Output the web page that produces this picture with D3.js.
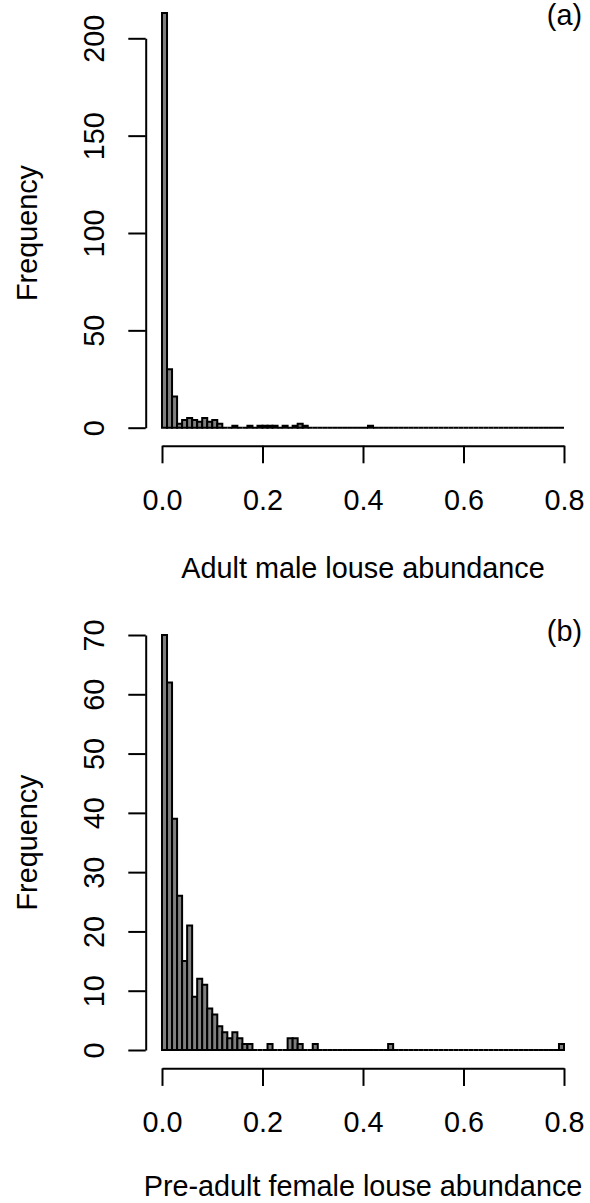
<!DOCTYPE html>
<html>
<head>
<meta charset="utf-8">
<script src="https://cdn.jsdelivr.net/npm/d3@7"></script>
<style>
  body { margin: 0; background: #fff; }
  text { font-family: "Liberation Sans", Arial, sans-serif; fill: #000; }
</style>
</head>
<body>
<div id="chart"></div>
<script>
// bin edges 0.00 .. 0.80, width 0.01
var binWidth = 0.01;
var binStarts = d3.range(0, 80).map(function(i){ return i * binWidth; });

// counts per bin, panel (a) adult males
var countsA = [213,30,16,2,4,5,4,3,5,3,
               4,2,0,0,1,0,0,1,0,1,
               1,1,1,0,1,0,1,2,1,0,
               0,0,0,0,0,0,0,0,0,0,
               0,1,0,0,0,0,0,0,0,0,
               0,0,0,0,0,0,0,0,0,0,
               0,0,0,0,0,0,0,0,0,0,
               0,0,0,0,0,0,0,0,0,0];

// counts per bin, panel (b) pre-adult females
var countsB = [70,62,39,26,15,21,9,12,11,7,
               6,4,3,2,3,2,1,1,0,0,
               0,1,0,0,0,2,2,1,0,0,
               1,0,0,0,0,0,0,0,0,0,
               0,0,0,0,0,1,0,0,0,0,
               0,0,0,0,0,0,0,0,0,0,
               0,0,0,0,0,0,0,0,0,0,
               0,0,0,0,0,0,0,0,0,1];

var xTicks = [0, 0.2, 0.4, 0.6, 0.8];
var yTicksA = [0, 50, 100, 150, 200];
var yTicksB = [0, 10, 20, 30, 40, 50, 60, 70];

var width = 590, height = 1203;
var fontSize = 28.8;

var svg = d3.select("#chart")
            .append("svg")
            .attr("width", width)
            .attr("height", height);

var x = d3.scaleLinear().domain([0, 0.8]).range([162, 564]);

function drawPanel(counts, yScale, yTicks, xLabel, tag, axisY, tagY, titleY){
    var g = svg.append("g");

    // bars, zero bins too (R draws them as flat boxes)
    g.selectAll(null)
        .data(counts)
        .enter()
        .append("path")
        .attr("d", function(d, i){
            var x0 = x(binStarts[i]), x1 = x(binStarts[i] + binWidth);
            var y0 = yScale(0), y1 = yScale(d);
            return "M" + x0 + "," + y0 + "H" + x1 + "V" + y1 + "H" + x0 + "Z";
        })
        .attr("fill", "#7f7f7f")
        .attr("stroke", "#000")
        .attr("stroke-width", 2)
        .attr("stroke-linejoin", "miter");

    // x axis
    var xa = g.append("g")
        .attr("transform", "translate(0," + axisY + ")")
        .call(d3.axisBottom(x).tickValues(xTicks).tickFormat(d3.format(".1f"))
              .tickSize(17.6).tickSizeOuter(0));
    xa.select(".domain").attr("stroke-width", 2);
    xa.selectAll(".tick line").attr("stroke-width", 2);
    xa.selectAll(".tick text")
        .attr("font-size", fontSize)
        .attr("font-family", "Liberation Sans, Arial, sans-serif")
        .attr("dy", null)
        .attr("y", 64);

    // y axis
    var ya = g.append("g")
        .attr("transform", "translate(145.7,0)")
        .call(d3.axisLeft(yScale).tickValues(yTicks).tickSize(17.4).tickSizeOuter(0));
    ya.select(".domain").attr("stroke-width", 2);
    ya.selectAll(".tick line").attr("stroke-width", 2);
    ya.selectAll(".tick text")
        .attr("font-size", fontSize)
        .attr("font-family", "Liberation Sans, Arial, sans-serif")
        .attr("x", null).attr("dy", null)
        .attr("text-anchor", "middle")
        .attr("transform", "translate(-42.2,0) rotate(-90)");

    // axis titles
    g.append("text")
        .attr("x", (x(0) + x(0.8)) / 2)
        .attr("y", titleY)
        .attr("text-anchor", "middle")
        .attr("font-size", fontSize)
        .text(xLabel);

    var midY = (yScale.range()[0] + yScale.range()[1]) / 2;
    g.append("text")
        .attr("transform", "translate(36.7," + midY + ") rotate(-90)")
        .attr("text-anchor", "middle")
        .attr("font-size", fontSize)
        .text("Frequency");

    // panel tag
    g.append("text")
        .attr("x", 582)
        .attr("y", tagY)
        .attr("text-anchor", "end")
        .attr("font-size", fontSize)
        .text(tag);
}

var yA = d3.scaleLinear().domain([0, 200]).range([427.7, 38.3]);
var yB = d3.scaleLinear().domain([0, 70]).range([1050, 635]);

drawPanel(countsA, yA, yTicksA, "Adult male louse abundance", "(a)", 445.7, 25, 578);
drawPanel(countsB, yB, yTicksB, "Pre-adult female louse abundance", "(b)", 1068.3, 641, 1196);
</script>
</body>
</html>
